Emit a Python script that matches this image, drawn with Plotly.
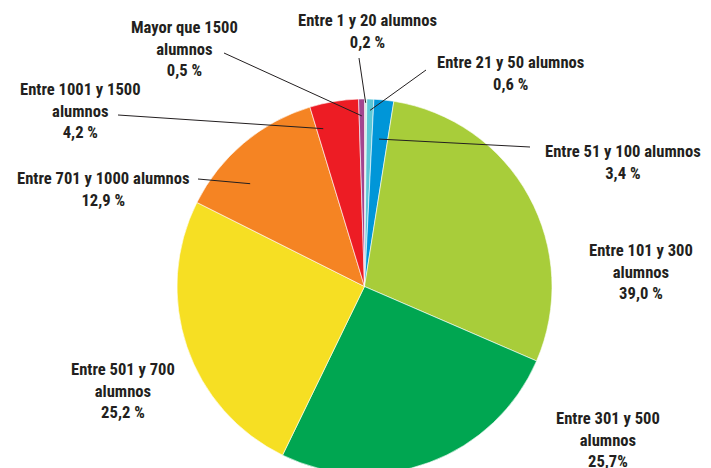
import math
import plotly.graph_objects as go

# datos
categorias = ['Entre 1 y 20 alumnos', 'Entre 21 y 50 alumnos', 'Entre 51 y 100 alumnos',
              'Entre 101 y 300 alumnos', 'Entre 301 y 500 alumnos', 'Entre 501 y 700 alumnos',
              'Entre 701 y 1000 alumnos', 'Entre 1001 y 1500 alumnos', 'Mayor que 1500 alumnos']
# tamaño de cada sector tal como aparece dibujado
valores = [0.2, 0.6, 1.7, 29.0, 25.7, 25.2, 12.9, 4.2, 0.5]
# texto de las etiquetas (tal cual en el gráfico)
etiquetas = ['Entre 1 y 20 alumnos<br>0,2 %', 'Entre 21 y 50 alumnos<br>0,6 %',
             'Entre 51 y 100 alumnos<br>3,4 %', 'Entre 101 y 300<br>alumnos<br>39,0 %',
             'Entre 301 y 500<br>alumnos<br>25,7%', 'Entre 501 y 700<br>alumnos<br>25,2 %',
             'Entre 701 y 1000 alumnos<br>12,9 %', 'Entre 1001 y 1500<br>alumnos<br>4,2 %',
             'Mayor que 1500<br>alumnos<br>0,5 %']
colores = ['#d8ebe4', '#5bc7d6', '#0096d8', '#a8cd3a', '#00a651', '#f6df23',
           '#f58423', '#ed1c24', '#a3458f']

W, H = 711, 480
CX, CY, R = 364.5, 286.5, 187.5
FUENTE = 'Liberation Sans Narrow, Arial Narrow, Roboto Condensed, sans-serif'

# posición de cada etiqueta (px): centro x, y de la primera línea,
# inicio de la guía, fracción dentro del sector y fracción del radio
pos_etiquetas = {
    0: dict(x=367, y=20, guia=(359, 58), f=0.5, r=0.98),
    1: dict(x=510, y=62, guia=(426, 70), f=0.5, r=0.94),
    2: dict(x=623, y=151, guia=(530, 147), f=0.45, r=0.79),
    3: dict(x=641, y=250),
    4: dict(x=608, y=418),
    5: dict(x=123, y=369),
    6: dict(x=103, y=178, guia=(198, 179), f=0.33, r=0.82),
    7: dict(x=80, y=89, guia=(118, 115), f=0.15, r=0.87),
    8: dict(x=184, y=27, guia=(224, 53), f=0.5, r=0.91),
}

fig = go.Figure(go.Pie(
    labels=categorias, values=valores, sort=False, direction='clockwise', rotation=0,
    textinfo='none', hoverinfo='label+percent',
    marker=dict(colors=colores, line=dict(color='white', width=0.6)),
    domain=dict(x=[(CX - R) / W, (CX + R) / W], y=[(H - CY - R) / H, (H - CY + R) / H]),
))

total = sum(valores)
acum = 0
for i, v in enumerate(valores):
    p = pos_etiquetas[i]
    fig.add_annotation(x=p['x'] / W, y=1 - (p['y'] - 11.5) / H, xref='paper', yref='paper',
                       text=etiquetas[i], showarrow=False, xanchor='center', yanchor='top',
                       align='center',
                       font=dict(family=FUENTE, size=16.6, color='#231f20', weight='bold'))
    if 'guia' in p:
        ang = 2 * math.pi * (acum + p['f'] * v) / total
        ex = CX + p['r'] * R * math.sin(ang)
        ey = CY - p['r'] * R * math.cos(ang)
        gx, gy = p['guia']
        fig.add_shape(type='line', xref='paper', yref='paper',
                      x0=gx / W, y0=1 - gy / H, x1=ex / W, y1=1 - ey / H,
                      line=dict(color='#231f20', width=1))
    acum += v

fig.update_layout(width=W, height=H, margin=dict(l=0, r=0, t=0, b=0),
                  showlegend=False, paper_bgcolor='white', plot_bgcolor='white')

fig.write_html('out.html', config={'displayModeBar': False},
               post_script="document.body.style.margin='0';document.body.style.overflow='hidden';")
